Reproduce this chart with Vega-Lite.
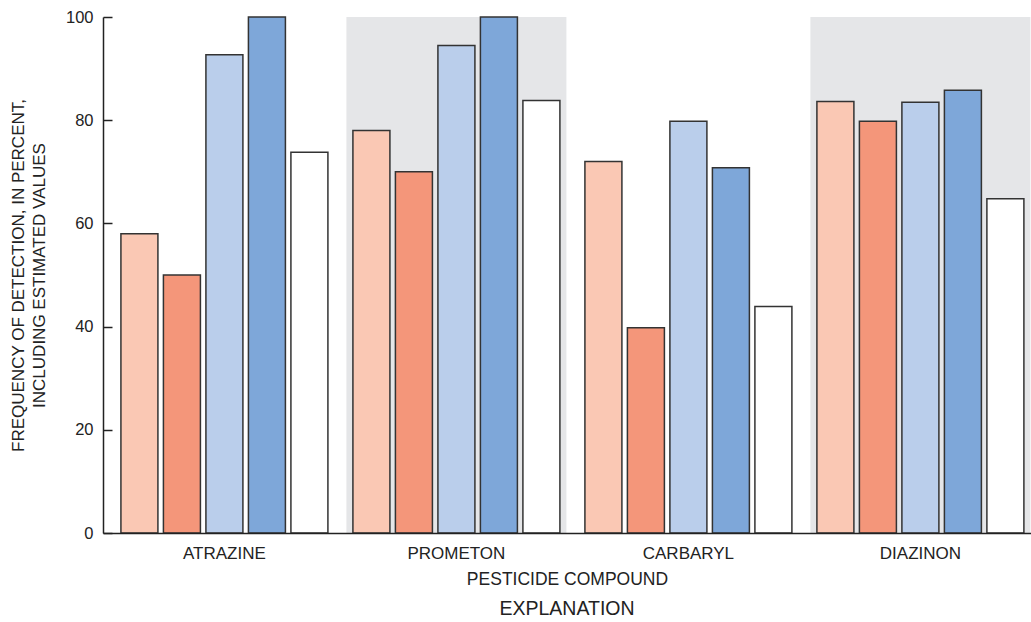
{
  "$schema": "https://vega.github.io/schema/vega-lite/v6.json",
  "width": 928,
  "height": 516,
  "autosize": "none",
  "padding": {"left": 103, "top": 17, "right": 0, "bottom": 89},
  "config": {"view": {"stroke": null}, "font": "Liberation Sans"},
  "datasets": {
    "bars": [
      {"compound": "ATRAZINE", "series": "S1", "freq": 58},
      {"compound": "ATRAZINE", "series": "S2", "freq": 50},
      {"compound": "ATRAZINE", "series": "S3", "freq": 92.7},
      {"compound": "ATRAZINE", "series": "S4", "freq": 100},
      {"compound": "ATRAZINE", "series": "S5", "freq": 73.8},
      {"compound": "PROMETON", "series": "S1", "freq": 78},
      {"compound": "PROMETON", "series": "S2", "freq": 70},
      {"compound": "PROMETON", "series": "S3", "freq": 94.5},
      {"compound": "PROMETON", "series": "S4", "freq": 100},
      {"compound": "PROMETON", "series": "S5", "freq": 83.8},
      {"compound": "CARBARYL", "series": "S1", "freq": 72},
      {"compound": "CARBARYL", "series": "S2", "freq": 39.8},
      {"compound": "CARBARYL", "series": "S3", "freq": 79.8},
      {"compound": "CARBARYL", "series": "S4", "freq": 70.8},
      {"compound": "CARBARYL", "series": "S5", "freq": 43.9},
      {"compound": "DIAZINON", "series": "S1", "freq": 83.6},
      {"compound": "DIAZINON", "series": "S2", "freq": 79.8},
      {"compound": "DIAZINON", "series": "S3", "freq": 83.5},
      {"compound": "DIAZINON", "series": "S4", "freq": 85.8},
      {"compound": "DIAZINON", "series": "S5", "freq": 64.8}
    ],
    "bands": [{"compound": "PROMETON"}, {"compound": "DIAZINON"}]
  },
  "title": {
    "text": "EXPLANATION",
    "orient": "bottom",
    "anchor": "middle",
    "fontSize": 19.5,
    "fontWeight": "normal",
    "color": "#222222",
    "offset": 12
  },
  "layer": [
    {
      "data": {"name": "bands"},
      "mark": {"type": "rect", "color": "#E5E6E8"},
      "encoding": {
        "x": {
          "field": "compound",
          "type": "nominal",
          "sort": ["ATRAZINE", "PROMETON", "CARBARYL", "DIAZINON"],
          "scale": {"paddingInner": 0.0517, "paddingOuter": 0.0259, "align": 0.95},
          "axis": {
            "title": "PESTICIDE COMPOUND",
            "titleFontSize": 17.5,
            "titleFontWeight": "normal",
            "titleColor": "#222222",
            "titlePadding": 9,
            "labelAngle": 0,
            "labelFontSize": 17,
            "labelColor": "#222222",
            "labelPadding": 12,
            "ticks": false,
            "domainColor": "#222222",
            "domainWidth": 1.5
          }
        },
        "y": {"datum": 0, "type": "quantitative"},
        "y2": {"datum": 100}
      }
    },
    {
      "data": {"name": "bars"},
      "mark": {"type": "bar", "stroke": "#333333", "strokeWidth": 1.5},
      "encoding": {
        "x": {
          "field": "compound",
          "type": "nominal",
          "sort": ["ATRAZINE", "PROMETON", "CARBARYL", "DIAZINON"]
        },
        "xOffset": {
          "field": "series",
          "type": "nominal",
          "scale": {"paddingInner": 0.1294, "paddingOuter": 0.153}
        },
        "y": {
          "field": "freq",
          "type": "quantitative",
          "scale": {"domain": [0, 100], "nice": false},
          "axis": {
            "title": ["FREQUENCY OF DETECTION, IN PERCENT,", "INCLUDING ESTIMATED VALUES"],
            "titleFontSize": 17,
            "titleFontWeight": "normal",
            "titleColor": "#222222",
            "titleLineHeight": 21,
            "titlePadding": 17,
            "values": [0, 20, 40, 60, 80, 100],
            "grid": false,
            "tickSize": -9,
            "tickColor": "#222222",
            "tickWidth": 1.5,
            "labelFontSize": 16.5,
            "labelColor": "#222222",
            "labelPadding": 19,
            "domainColor": "#222222",
            "domainWidth": 1.5
          }
        },
        "color": {
          "field": "series",
          "type": "nominal",
          "scale": {
            "domain": ["S1", "S2", "S3", "S4", "S5"],
            "range": ["#FAC8B4", "#F4967A", "#BACEEB", "#7EA7D9", "#FFFFFF"]
          },
          "legend": null
        }
      }
    },
    {
      "mark": {"type": "rule", "color": "#222222", "strokeWidth": 1.5},
      "encoding": {"y": {"datum": 100}}
    }
  ]
}
